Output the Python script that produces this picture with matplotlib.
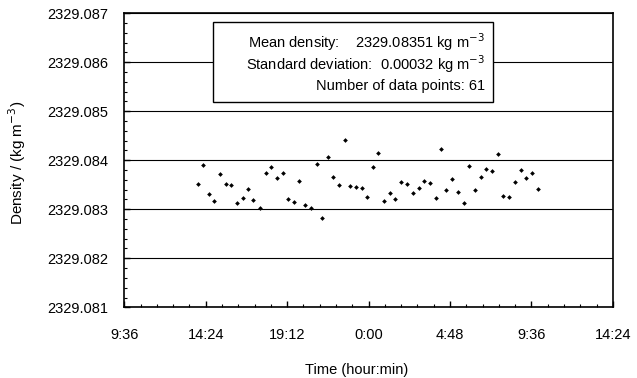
import matplotlib.pyplot as plt
from matplotlib.ticker import MultipleLocator, FuncFormatter

plt.rcParams['font.family'] = ['Liberation Sans', 'DejaVu Sans']

# clock times of the measurements (hour:min), run goes past midnight
times = ['13:56', '14:16', '14:36', '14:55', '15:15', '15:35', '15:55', '16:15',
         '16:35', '16:53', '17:13', '17:36', '17:56', '18:16', '18:36', '18:56',
         '19:16', '19:35', '19:55', '20:15', '20:35', '20:58', '21:16', '21:38',
         '21:56', '22:16', '22:36', '22:56', '23:16', '23:36', '23:55', '0:15',
         '0:35', '0:55', '1:15', '1:35', '1:55', '2:17', '2:37', '2:57',
         '3:17', '3:37', '3:57', '4:17', '4:35', '4:57', '5:17', '5:37',
         '5:57', '6:17', '6:37', '6:57', '7:17', '7:37', '7:57', '8:17',
         '8:38', '8:58', '9:18', '9:38', '9:58']

# density in kg m^-3
density = [2329.08351, 2329.08391, 2329.08331, 2329.08317, 2329.08372, 2329.08351,
           2329.08349, 2329.08312, 2329.08323, 2329.08342, 2329.08319, 2329.08302,
           2329.08374, 2329.08386, 2329.08363, 2329.08374, 2329.08321, 2329.08315,
           2329.08357, 2329.08308, 2329.08302, 2329.08393, 2329.08283, 2329.08407,
           2329.08365, 2329.08349, 2329.08441, 2329.08347, 2329.08345, 2329.08344,
           2329.08325, 2329.08386, 2329.08414, 2329.08317, 2329.08334, 2329.08321,
           2329.08355, 2329.08351, 2329.08334, 2329.08344, 2329.08357, 2329.08353,
           2329.08323, 2329.08423, 2329.08340, 2329.08361, 2329.08336, 2329.08313,
           2329.08389, 2329.08340, 2329.08365, 2329.08382, 2329.08378, 2329.08412,
           2329.08328, 2329.08326, 2329.08355, 2329.08380, 2329.08363, 2329.08374,
           2329.08342]

# convert clock times to continuous hours
hours = []
prev = None
day = 0
for t in times:
    h, m = t.split(':')
    v = int(h) + int(m) / 60
    if prev is not None and v < prev:
        day += 24
    prev = v
    hours.append(v + day)

fig = plt.figure(figsize=(6.37, 3.78), dpi=100)
ax = fig.add_axes([0.195, 0.187, 0.767, 0.778])

ax.plot(hours, density, 'D', color='black', markersize=2.4, markeredgewidth=0)

ax.set_xlim(9.6, 38.4)
ax.set_ylim(2329.081, 2329.087)
ax.xaxis.set_major_locator(MultipleLocator(4.8))
ax.xaxis.set_minor_locator(MultipleLocator(0.96))
ax.yaxis.set_major_locator(MultipleLocator(0.001))
ax.yaxis.set_minor_locator(MultipleLocator(0.0002))


def hm(x, pos):
    total = int(round(x * 60)) % (24 * 60)
    return f'{total // 60}:{total % 60:02d}'


ax.xaxis.set_major_formatter(FuncFormatter(hm))
ax.yaxis.set_major_formatter(FuncFormatter(lambda y, p: f'{y:.3f}'))
ax.tick_params(which='both', direction='in', labelsize=10.5, top=False, right=False)
ax.tick_params(which='major', length=4, width=1)
ax.tick_params(which='minor', length=2.5, width=0.8)
ax.tick_params(axis='x', which='major', pad=15)
ax.tick_params(axis='y', which='major', pad=11.5)
for sp in ax.spines.values():
    sp.set_linewidth(1.2)
ax.grid(axis='y', which='major', color='black', linewidth=0.8)
ax.set_axisbelow(True)

ax.set_xlabel('Time (hour:min)', fontsize=10.5)
ax.xaxis.set_label_coords(0.476, -0.19)
ax.set_ylabel('Density / (kg m$^{-3}$)', fontsize=11)
ax.yaxis.set_label_coords(-0.197, 0.49)

# info box
box = plt.Rectangle((0.182, 0.698), 0.573, 0.272, transform=ax.transAxes,
                    facecolor='white', edgecolor='black', linewidth=1, zorder=3)
ax.add_patch(box)
lines = ['Mean density:    2329.08351 kg m$^{-3}$',
         'Standard deviation:  0.00032 kg m$^{-3}$',
         'Number of data points: 61']
baselines = [0.882, 0.807, 0.739]
for s, yb in zip(lines, baselines):
    ax.text(0.738, yb, s, transform=ax.transAxes, ha='right',
            va='baseline', fontsize=10.5, zorder=4)

fig.savefig('out.png', dpi=100)
